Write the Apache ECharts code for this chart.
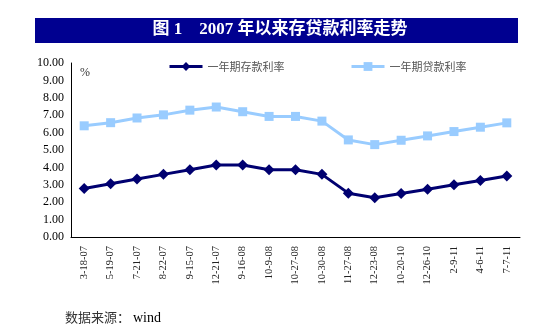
<!DOCTYPE html>
<html><head><meta charset="utf-8">
<script src="https://cdn.jsdelivr.net/npm/echarts@6/dist/echarts.min.js"></script>
<style>html,body{margin:0;padding:0;background:#fff}#c{width:560px;height:333px}</style>
</head><body><div id="c"></div>
<script>
const categories = ['3-18-07','5-19-07','7-21-07','8-22-07','9-15-07','12-21-07','9-16-08','10-9-08','10-27-08','10-30-08','11-27-08','12-23-08','10-20-10','12-26-10','2-9-11','4-6-11','7-7-11'];
const depositRate = [2.79,3.06,3.33,3.60,3.87,4.14,4.14,3.87,3.87,3.60,2.52,2.25,2.50,2.75,3.00,3.25,3.50];
const lendingRate = [6.39,6.57,6.84,7.02,7.29,7.47,7.20,6.93,6.93,6.66,5.58,5.31,5.56,5.81,6.06,6.31,6.56];
const seriesNames = ['一年期存款利率','一年期贷款利率'];
const yTicks = {min:0, max:10, interval:1};

const chart = echarts.init(document.getElementById('c'));
const serif = 'Liberation Serif, "Noto Sans CJK SC", serif';
const legText = {color:'#555', fontSize:11, fontFamily:'"Noto Sans CJK SC"'};
chart.setOption({
  animation:false,
  grid:{left:71, right:40, top:63, bottom:96},
  legend:[
    {data:[seriesNames[0]], left:163, top:56, itemWidth:33, itemHeight:11, itemGap:4, lineStyle:{width:3}, textStyle:legText},
    {data:[seriesNames[1]], left:345, top:56, itemWidth:33, itemHeight:11, itemGap:4, lineStyle:{width:3}, textStyle:legText}
  ],
  xAxis:{type:'category', data:categories, boundaryGap:true,
    axisLine:{lineStyle:{color:'#000', width:1}},
    axisTick:{inside:true, length:4, lineStyle:{color:'#000'}},
    axisLabel:{rotate:90, fontSize:10.5, fontFamily:serif, color:'#222', margin:9, interval:0}},
  yAxis:{type:'value', min:yTicks.min, max:yTicks.max, interval:yTicks.interval,
    axisLine:{show:true, lineStyle:{color:'#000', width:1}},
    axisTick:{show:false}, splitLine:{show:false},
    axisLabel:{formatter:v=>v.toFixed(2), fontSize:12, fontFamily:serif, color:'#000', margin:7}},
  series:[
    {name:seriesNames[0], type:'line', data:depositRate, symbol:'diamond', symbolSize:11,
      lineStyle:{color:'#000070', width:3}, itemStyle:{color:'#000070'}},
    {name:seriesNames[1], type:'line', data:lendingRate, symbol:'rect', symbolSize:9,
      lineStyle:{color:'#99CCFF', width:3}, itemStyle:{color:'#99CCFF'}}
  ],
  graphic:[
    {type:'rect', shape:{x:35, y:18, width:483, height:25}, style:{fill:'#000090'}},
    {type:'text', left:'center', top:21, style:{text:'图 1    2007 年以来存贷款利率走势', fill:'#fff', font:'bold 17px "Liberation Serif", "Noto Sans CJK SC"'}},
    {type:'text', left:80, top:67, style:{text:'%', fill:'#333', font:'12px "Liberation Serif"'}},
    {type:'text', left:65, top:311, style:{text:'数据来源：', fill:'#333', font:'13px "Noto Sans CJK SC"'}},
    {type:'text', left:133, top:311, style:{text:'wind', fill:'#000', font:'14px "Liberation Serif"'}}
  ]
});
</script></body></html>
